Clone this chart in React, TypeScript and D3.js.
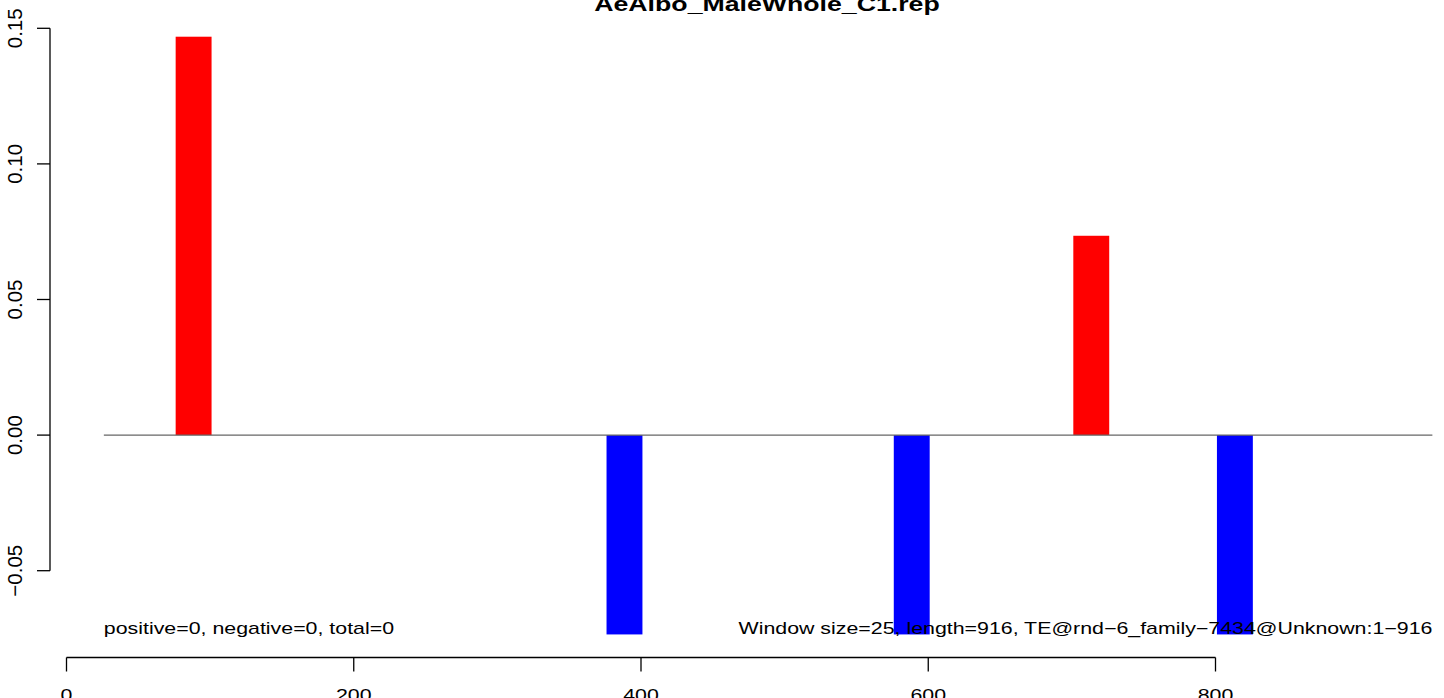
import React from "react";
import * as d3 from "d3";

const title = "AeAlbo_MaleWhole_C1.rep";
const windowStarts = [76, 376, 576, 701, 801];
const windowSize = 25;
const values = [0.1469, -0.0735, -0.0735, 0.0735, -0.0735];
const yTicks = [-0.05, 0.0, 0.05, 0.1, 0.15];
const xTicks = [0, 200, 400, 600, 800];
const lineExtent = [26, 951];
const leftNote = "positive=0, negative=0, total=0";
const rightNote = "Window size=25, length=916, TE@rnd\u22126_family\u22127434@Unknown:1\u2212916";

const W = 1444;
const H = 698;
const FONT = "'Liberation Sans', Arial, Helvetica, sans-serif";
const SX = 1.335;

export default function App() {
  const x = d3.scaleLinear().domain([0, 800]).range([66.5, 1215.5]);
  const y = d3.scaleLinear().domain([-0.05, 0.15]).range([570.7, 28.3]);
  const y0 = y(0);
  const axisX = 50;
  const axisY = 657.5;

  const fmt = (v: number) => (v < 0 ? "\u2212" : "") + d3.format(".2f")(Math.abs(v));

  return (
    <svg
      width={W}
      height={H}
      style={{ position: "absolute", left: 0, top: 0, background: "#fff" }}
      fontFamily={FONT}
    >
      <rect x={0} y={0} width={W} height={H} fill="#fff" />
      {windowStarts.map((s, i) => {
        const v = values[i];
        const x0 = x(s);
        const x1 = x(s + windowSize);
        const yt = y(Math.max(v, 0));
        const yb = y(Math.min(v, 0));
        return (
          <rect
            key={i}
            x={x0}
            y={yt}
            width={x1 - x0}
            height={yb - yt}
            fill={v >= 0 ? "#ff0000" : "#0000ff"}
          />
        );
      })}
      <line
        x1={x(lineExtent[0])}
        x2={x(lineExtent[1])}
        y1={y0}
        y2={y0}
        stroke="#666"
        strokeWidth={1.1}
      />
      {/* Y axis */}
      <line x1={axisX} x2={axisX} y1={y(0.15)} y2={y(-0.05)} stroke="#000" strokeWidth={1.3} />
      {yTicks.map((t) => (
        <g key={t}>
          <line x1={axisX - 13} x2={axisX} y1={y(t)} y2={y(t)} stroke="#000" strokeWidth={1.3} />
          <text
            transform={`translate(22,${y(t)}) rotate(-90)`}
            textAnchor="middle"
            fontSize={20.5}
            fill="#000"
          >
            {fmt(t)}
          </text>
        </g>
      ))}
      {/* X axis */}
      <line x1={x(0)} x2={x(800)} y1={axisY} y2={axisY} stroke="#000" strokeWidth={1.3} />
      {xTicks.map((t) => (
        <g key={t}>
          <line x1={x(t)} x2={x(t)} y1={axisY} y2={axisY + 14} stroke="#000" strokeWidth={1.3} />
          <text
            transform={`translate(${x(t)},701) scale(${SX},1)`}
            textAnchor="middle"
            fontSize={16}
            fill="#000"
          >
            {t}
          </text>
        </g>
      ))}
      {/* annotations */}
      <text
        transform={`translate(${x(lineExtent[0])},633.5) scale(${SX},1)`}
        textAnchor="start"
        fontSize={16}
        fill="#000"
      >
        {leftNote}
      </text>
      <text
        transform={`translate(${x(lineExtent[1])},633.5) scale(${SX},1)`}
        textAnchor="end"
        fontSize={16}
        fill="#000"
      >
        {rightNote}
      </text>
      {/* title */}
      <text
        transform={`translate(767,10.5) scale(${SX},1)`}
        textAnchor="middle"
        fontSize={20}
        fontWeight="bold"
        fill="#000"
      >
        {title}
      </text>
    </svg>
  );
}
